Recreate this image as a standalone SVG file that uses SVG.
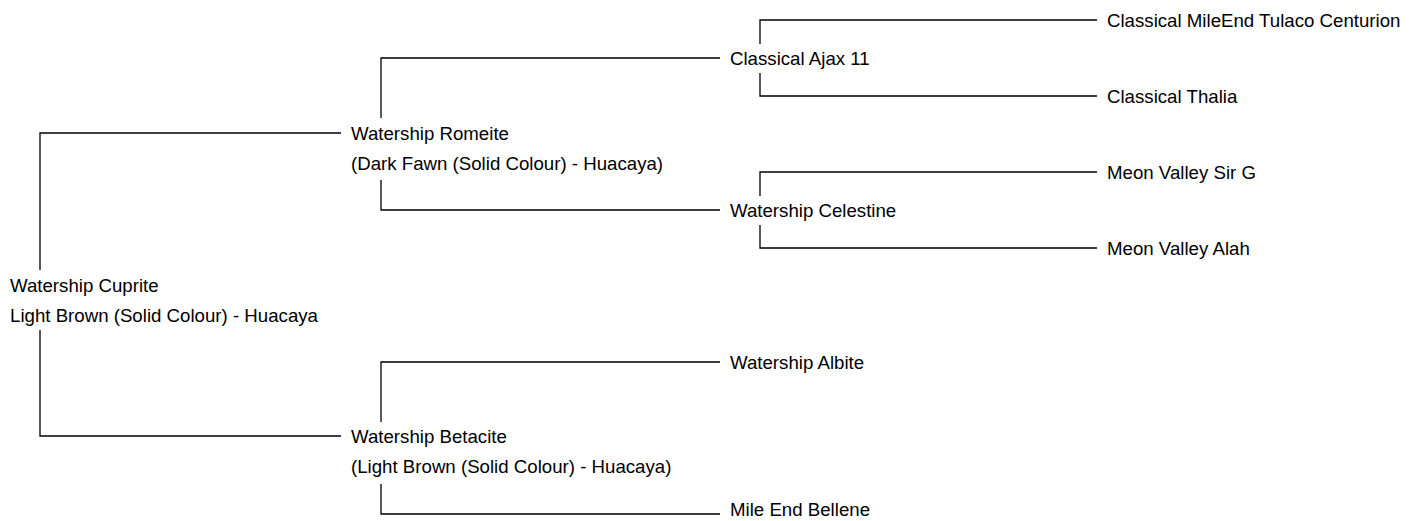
<svg xmlns="http://www.w3.org/2000/svg" width="1413" height="521" viewBox="0 0 1413 521">
<style>
.bg{fill:#fff}
.c path{fill:none;stroke:#000;stroke-width:1.3}
text{font-family:"Liberation Sans",Arial,sans-serif;font-size:18.67px;fill:#000}
</style>
<rect class="bg" x="0" y="0" width="1413" height="521"/>
<g class="c" id="connectors">
<path d="M40,270 V133 H341"/>
<path d="M40,330 V436 H341"/>
<path d="M381,118 V58 H720"/>
<path d="M381,180 V210 H720"/>
<path d="M381,422 V362 H720"/>
<path d="M381,484 V514 H720"/>
<path d="M760,44 V20 H1097"/>
<path d="M760,73 V96 H1097"/>
<path d="M760,196 V172 H1097"/>
<path d="M760,225 V248 H1097"/>
</g>
<g id="n-cuprite"><text x="10" y="292">Watership Cuprite</text><text x="10" y="322">Light Brown (Solid Colour) - Huacaya</text></g>
<g id="n-romeite"><text x="351" y="140">Watership Romeite</text><text x="351" y="170">(Dark Fawn (Solid Colour) - Huacaya)</text></g>
<g id="n-betacite"><text x="351" y="443">Watership Betacite</text><text x="351" y="473">(Light Brown (Solid Colour) - Huacaya)</text></g>
<g id="n-ajax"><text x="730" y="65">Classical Ajax 11</text></g>
<g id="n-celestine"><text x="730" y="217">Watership Celestine</text></g>
<g id="n-albite"><text x="730" y="369">Watership Albite</text></g>
<g id="n-bellene"><text x="730" y="516">Mile End Bellene</text></g>
<g id="n-centurion"><text x="1107" y="27">Classical MileEnd Tulaco Centurion</text></g>
<g id="n-thalia"><text x="1107" y="103">Classical Thalia</text></g>
<g id="n-sirg"><text x="1107" y="179">Meon Valley Sir G</text></g>
<g id="n-alah"><text x="1107" y="255">Meon Valley Alah</text></g>
</svg>
